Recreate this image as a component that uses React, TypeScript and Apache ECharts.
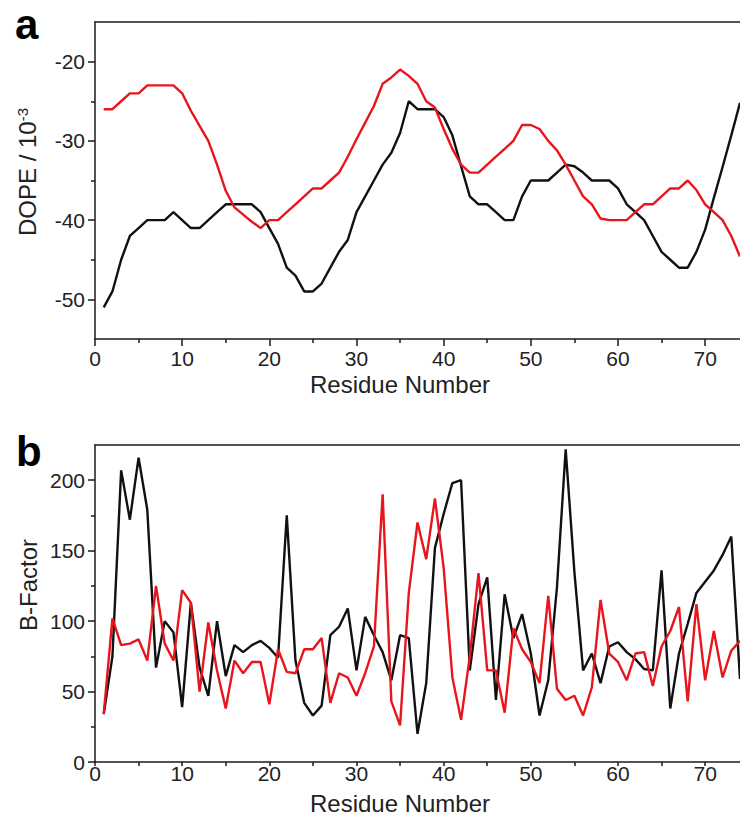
import React, { useEffect, useRef } from 'react';
import * as echarts from 'echarts';

const residues = [1,2,3,4,5,6,7,8,9,10,11,12,13,14,15,16,17,18,19,20,21,22,23,24,25,26,27,28,29,30,31,32,33,34,35,36,37,38,39,40,41,42,43,44,45,46,47,48,49,50,51,52,53,54,55,56,57,58,59,60,61,62,63,64,65,66,67,68,69,70,71,72,73,74];

const dopeBlack = [-51,-49,-45,-42,-41,-40,-40,-40,-39,-40,-41,-41,-40,-39,-38,-38,-38,-38,-39,-41,-43,-46,-47,-49,-49,-48,-46,-44,-42.5,-39,-37,-35,-33,-31.5,-29,-25,-26,-26,-26,-27,-29.3,-33.2,-37,-38,-38,-39,-40,-40,-37,-35,-35,-35,-34,-33,-33.2,-34,-35,-35,-35,-36,-38,-39,-40,-42,-44,-45,-46,-46,-44,-41.2,-37.2,-33.3,-29.3,-25.2];

const dopeRed = [-26,-26,-25,-24,-24,-23,-23,-23,-23,-24,-26.2,-28.1,-30,-33,-36.3,-38.4,-39.3,-40.2,-41,-40,-40,-39,-38,-37,-36,-36,-35,-34,-32,-29.8,-27.7,-25.6,-22.8,-22,-21,-21.8,-22.8,-25,-25.8,-28.5,-31,-33,-34,-34,-33,-32,-31,-30,-28,-28,-28.5,-30,-31.2,-33,-35,-37,-38,-39.8,-40,-40,-40,-39,-38,-38,-37,-36,-36,-35,-36.2,-38,-39,-40,-42,-44.6];

const bBlack = [34,75,207,172,216,179,67,100,92,39,113,67,47,100,61,83,78,83,86,81,74,175,72,42,33,40,90,96,109,65,103,90,78,58,90,88,20,56,152,176,198,200,65,112,131,44,119,88,105,77,33,58,124,222,135,65,77,56,82,85,78,73,66,65,136,38,77,98,120,128,136,147,160,59];

const bRed = [34,102,83,84,87,72,125,84,72,122,113,50,99,65,38,72,63,71,71,41,80,64,63,80,80,88,42,63,60,47,63,82,190,43,26,120,170,144,187,138,60,30,75,134,65,65,35,95,80,71,56,118,52,44,47,33,53,115,77,71,58,77,78,54,82,93,110,43,112,58,93,60,79,86];

const xTicks = [0, 10, 20, 30, 40, 50, 60, 70];
const xMinorTicks = [5, 15, 25, 35, 45, 55, 65];
const dopeTicks = [-50, -40, -30, -20];
const dopeMinorTicks = [-45, -35, -25];
const bTicks = [0, 50, 100, 150, 200];
const bMinorTicks = [25, 75, 125, 175];

const FONT = '"Liberation Sans", Arial, Helvetica, sans-serif';
const AXIS = '#1a1a1a';
const BLACK = '#111111';
const RED = '#e8161c';
const X_MAX = 74;

function mainX(gridIndex: number, margin: number, tickLen: number) {
  return {
    type: 'value', gridIndex, position: 'bottom', min: 0, max: X_MAX,
    axisLine: { show: true, onZero: false, lineStyle: { color: AXIS, width: 1.5 } },
    axisTick: { show: true, customValues: xTicks, length: tickLen, lineStyle: { color: AXIS, width: 1.5 } },
    axisLabel: { show: true, customValues: xTicks, margin, fontSize: 21, color: '#222', fontFamily: FONT },
    splitLine: { show: false },
  };
}
function minorX(gridIndex: number) {
  return {
    type: 'value', gridIndex, position: 'bottom', min: 0, max: X_MAX,
    axisLine: { show: false },
    axisTick: { show: true, customValues: xMinorTicks, length: 4, lineStyle: { color: AXIS, width: 1.5 } },
    axisLabel: { show: false },
    splitLine: { show: false },
  };
}
function topX(gridIndex: number) {
  return {
    type: 'value', gridIndex, position: 'top', min: 0, max: X_MAX,
    axisLine: { show: true, onZero: false, lineStyle: { color: AXIS, width: 1.5 } },
    axisTick: { show: false }, axisLabel: { show: false }, splitLine: { show: false },
  };
}
function mainY(gridIndex: number, min: number, max: number, ticks: number[]) {
  return {
    type: 'value', gridIndex, position: 'left', min, max,
    axisLine: { show: true, onZero: false, lineStyle: { color: AXIS, width: 1.5 } },
    axisTick: { show: true, customValues: ticks, length: 7, lineStyle: { color: AXIS, width: 1.5 } },
    axisLabel: { show: true, customValues: ticks, margin: 10, fontSize: 21, color: '#222', fontFamily: FONT },
    splitLine: { show: false },
  };
}
function minorY(gridIndex: number, min: number, max: number, ticks: number[]) {
  return {
    type: 'value', gridIndex, position: 'left', min, max,
    axisLine: { show: false },
    axisTick: { show: true, customValues: ticks, length: 4, lineStyle: { color: AXIS, width: 1.5 } },
    axisLabel: { show: false }, splitLine: { show: false },
  };
}
function lineSeries(xi: number, yi: number, values: number[], color: string) {
  return {
    type: 'line', xAxisIndex: xi, yAxisIndex: yi,
    data: residues.map((r, i) => [r, values[i]]),
    showSymbol: false, symbol: 'none',
    lineStyle: { color, width: 2.4 },
    itemStyle: { color },
  };
}

export default function App() {
  const ref = useRef<HTMLDivElement>(null);
  useEffect(() => {
    document.body.style.margin = '0';
    if (!ref.current) return;
    const chart = echarts.init(ref.current, null, { renderer: 'svg' });
    const titleStyle = { fontSize: 24, fontFamily: FONT, fill: '#222' };
    chart.setOption({
      animation: false,
      backgroundColor: '#ffffff',
      grid: [
        { left: 95, top: 22, width: 645, height: 317 },
        { left: 95, top: 445, width: 645, height: 317 },
      ],
      xAxis: [mainX(0, 9, 7), minorX(0), topX(0), mainX(1, 1, 4), minorX(1), topX(1)],
      yAxis: [
        mainY(0, -55, -15, dopeTicks), minorY(0, -55, -15, dopeMinorTicks),
        mainY(1, 0, 225, bTicks), minorY(1, 0, 225, bMinorTicks),
      ],
      series: [
        lineSeries(0, 0, dopeBlack, BLACK),
        lineSeries(0, 0, dopeRed, RED),
        lineSeries(3, 2, bBlack, BLACK),
        lineSeries(3, 2, bRed, RED),
      ],
      graphic: [
        { type: 'text', x: 15, y: 24, style: { text: 'a', fontSize: 42, fontWeight: 'bold', fontFamily: FONT, fill: '#000', align: 'left', verticalAlign: 'middle' } },
        { type: 'text', x: 16, y: 451, style: { text: 'b', fontSize: 42, fontWeight: 'bold', fontFamily: FONT, fill: '#000', align: 'left', verticalAlign: 'middle' } },
        {
          type: 'text', x: 27, y: 172, rotation: Math.PI / 2,
          style: {
            text: '{m|DOPE / 10}{s|-3}', align: 'center', verticalAlign: 'middle',
            rich: {
              m: { fontSize: 24, fontFamily: FONT, fill: '#222', color: '#222' },
              s: { fontSize: 15, fontFamily: FONT, fill: '#222', color: '#222', verticalAlign: 'top' },
            },
          },
        },
        { type: 'text', x: 28, y: 585, rotation: Math.PI / 2, style: { ...titleStyle, text: 'B-Factor', align: 'center', verticalAlign: 'middle' } },
        { type: 'text', x: 400, y: 384, style: { ...titleStyle, text: 'Residue Number', align: 'center', verticalAlign: 'middle' } },
        { type: 'text', x: 400, y: 803, style: { ...titleStyle, text: 'Residue Number', align: 'center', verticalAlign: 'middle' } },
      ],
    });
    return () => chart.dispose();
  }, []);
  return <div ref={ref} style={{ position: 'absolute', left: 0, top: 0, width: 740, height: 815 }} />;
}
